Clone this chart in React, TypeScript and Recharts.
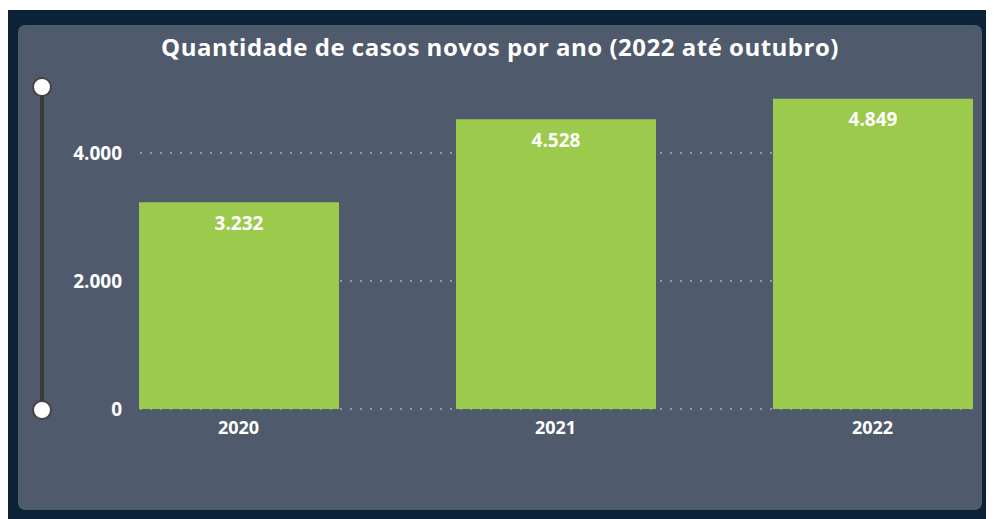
import React from "react";
import { BarChart, Bar, XAxis, YAxis, CartesianGrid, LabelList } from "recharts";

const years = ["2020", "2021", "2022"];
const casos = [3232, 4528, 4849];
const yTicks = [0, 2000, 4000];
const title = "Quantidade de casos novos por ano (2022 até outubro)";

const data = years.map((y, i) => ({ ano: y, casos: casos[i] }));
const fmt = (v: number) => v.toLocaleString("pt-BR");
const FONT = "'Open Sans', 'DejaVu Sans', sans-serif";

export default function App() {
  return (
    <div
      style={{
        position: "relative",
        width: 986,
        height: 511,
        marginTop: 2,
        background: "#0c2238",
      }}
    >
      <div
        style={{
          position: "absolute",
          left: 10,
          top: 15,
          width: 964,
          height: 485,
          background: "#4f5a6c",
          borderRadius: 7,
          overflow: "hidden",
        }}
      >
        <svg
          width={40}
          height={360}
          style={{ position: "absolute", left: 5, top: 45 }}
        >
          <line x1={19} y1={17} x2={19} y2={340} stroke="#3b3b3b" strokeWidth={4} />
          <circle cx={19} cy={17} r={9} fill="#ffffff" stroke="#444" strokeWidth={2} />
          <circle cx={19} cy={340} r={9} fill="#ffffff" stroke="#444" strokeWidth={2} />
        </svg>
        <div
          style={{
            position: "absolute",
            left: 0,
            top: 5,
            width: 964,
            textAlign: "center",
            color: "#ffffff",
            fontFamily: FONT,
            fontWeight: 700,
            fontSize: 24,
            letterSpacing: 0.5,
          }}
        >
          {title}
        </div>
        <BarChart
          width={964}
          height={485}
          data={data}
          margin={{ top: 64, right: 11, bottom: 71, left: 0 }}
          style={{ position: "absolute", left: 0, top: 0 }}
        >
          <CartesianGrid
            vertical={false}
            horizontalValues={yTicks}
            stroke="#aab0ba"
            strokeDasharray="2 8"
            strokeWidth={1.5}
          />
          <XAxis
            dataKey="ano"
            axisLine={false}
            tickLine={false}
            tickSize={0}
            tickMargin={12}
            height={30}
            padding={{ left: -60, right: -60 }}
            tick={{ fill: "#ffffff", fontSize: 18, fontWeight: 700, fontFamily: FONT }}
          />
          <YAxis
            width={122}
            domain={[0, 5000]}
            ticks={yTicks}
            axisLine={false}
            tickLine={false}
            tickSize={0}
            tickMargin={18}
            tickFormatter={fmt}
            tick={{ fill: "#ffffff", fontSize: 19, fontWeight: 700, fontFamily: FONT }}
          />
          <Bar dataKey="casos" fill="#9bca4c" barSize={200} isAnimationActive={false}>
            <LabelList
              dataKey="casos"
              position="insideTop"
              offset={14}
              formatter={(v: any) => fmt(Number(v))}
              fill="#ffffff"
              style={{ fontSize: 19, fontWeight: 700, fontFamily: FONT }}
            />
          </Bar>
        </BarChart>
      </div>
    </div>
  );
}
